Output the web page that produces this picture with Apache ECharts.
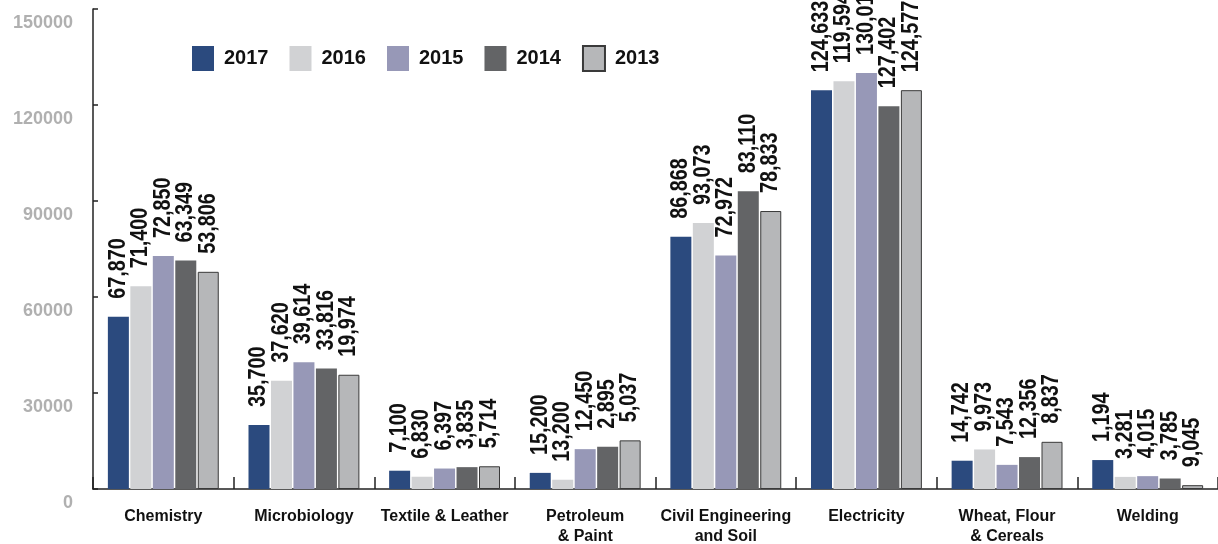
<!DOCTYPE html>
<html>
<head>
<meta charset="utf-8">
<script src="https://cdn.jsdelivr.net/npm/echarts@6/dist/echarts.min.js"></script>
<style>
  html, body { margin: 0; padding: 0; background: #ffffff; }
  #chart { width: 1218px; height: 544px; }
</style>
</head>
<body>
<div id="chart"></div>
<script>
// ---- data ----
const categories = [
  'Chemistry', 'Microbiology', 'Textile & Leather', 'Petroleum\n& Paint',
  'Civil Engineering\nand Soil', 'Electricity', 'Wheat, Flour\n& Cereals', 'Welding'
];
const years = ['2017', '2016', '2015', '2014', '2013'];
// bar heights as drawn
const values2017 = [53806, 19974, 5714, 5037, 78833, 124577, 8837, 9045];
const values2016 = [63349, 33816, 3835, 2895, 83110, 127402, 12356, 3785];
const values2015 = [72850, 39614, 6397, 12450, 72972, 130016, 7543, 4015];
const values2014 = [71400, 37620, 6830, 13200, 93073, 119594, 9973, 3281];
const values2013 = [67870, 35700, 7100, 15200, 86868, 124633, 14742, 1194];
const yTicks = [0, 30000, 60000, 90000, 120000, 150000];

const seriesValues = [values2017, values2016, values2015, values2014, values2013];
// In the original, the value labels above each group are printed in reverse year order
const fmt = v => v.toLocaleString('en-US');

const colors = ['#2b4a7e', '#d1d2d4', '#9798b7', '#636466', '#b6b7b9'];
const FONT = '"Liberation Sans", Arial, sans-serif';
const BAR_W = 21, BAR_GAP = '7%';

const barSeries = years.map((y, s) => ({
  name: y,
  type: 'bar',
  data: seriesValues[s],
  barWidth: BAR_W,
  barGap: BAR_GAP,
  itemStyle: s === 4
    ? { color: colors[s], borderColor: '#3a3a3a', borderWidth: 1 }
    : { color: colors[s] }
}));

// value labels: rotated, condensed text drawn above each bar
const labelSeries = years.map((y, s) => ({
  name: 'label-' + y,
  type: 'custom',
  silent: true,
  clip: false,
  z: 10,
  encode: { x: 0, y: 1 },
  data: seriesValues[s].map((v, i) => [i, v]),
  renderItem: (params, api) => {
    const layout = api.barLayout({ count: years.length, barWidth: BAR_W, barGap: BAR_GAP });
    const pt = api.coord([api.value(0), api.value(1)]);
    const cx = pt[0] + layout[s].offsetCenter;
    return {
      type: 'text',
      x: cx,
      y: pt[1] - 18,
      rotation: Math.PI / 2,
      scaleX: 0.86,
      style: {
        text: fmt(seriesValues[4 - s][params.dataIndex]),
        font: 'bold 23px ' + FONT,
        fill: '#111',
        align: 'left',
        verticalAlign: 'middle'
      }
    };
  }
}));

const chart = echarts.init(document.getElementById('chart'), null, { renderer: 'canvas' });
chart.setOption({
  animation: false,
  backgroundColor: '#ffffff',
  color: colors,
  legend: {
    left: 192,
    top: 45,
    padding: 0,
    itemWidth: 22,
    itemHeight: 25,
    itemGap: 21,
    icon: 'rect',
    data: years,
    textStyle: {
      fontFamily: FONT,
      fontWeight: 'bold',
      fontSize: 20,
      color: '#111',
      padding: [0, 0, 0, 5]
    }
  },
  grid: { left: 93, right: 0, top: 9, bottom: 55, containLabel: false, outerBoundsMode: 'none' },
  xAxis: {
    type: 'category',
    data: categories,
    axisLine: { show: true, lineStyle: { color: '#222', width: 1.5 } },
    axisTick: { show: true, inside: true, length: 12, alignWithLabel: false, lineStyle: { color: '#222', width: 1.5 } },
    axisLabel: {
      interval: 0,
      margin: 18,
      fontFamily: FONT,
      fontWeight: 'bold',
      fontSize: 16,
      lineHeight: 20,
      color: '#111'
    }
  },
  yAxis: {
    type: 'value',
    min: yTicks[0],
    max: yTicks[yTicks.length - 1],
    interval: yTicks[1] - yTicks[0],
    axisLine: { show: true, lineStyle: { color: '#222', width: 1.5 } },
    axisTick: { show: true, inside: true, length: 5, lineStyle: { color: '#222', width: 1.5 } },
    splitLine: { show: false },
    axisLabel: {
      margin: 20,
      fontFamily: FONT,
      fontWeight: 'bold',
      fontSize: 18,
      color: '#b0b0b0',
      verticalAlign: 'top',
      padding: [5, 0, 0, 0],
      formatter: v => String(v)
    }
  },
  series: barSeries.concat(labelSeries)
});
</script>
</body>
</html>
